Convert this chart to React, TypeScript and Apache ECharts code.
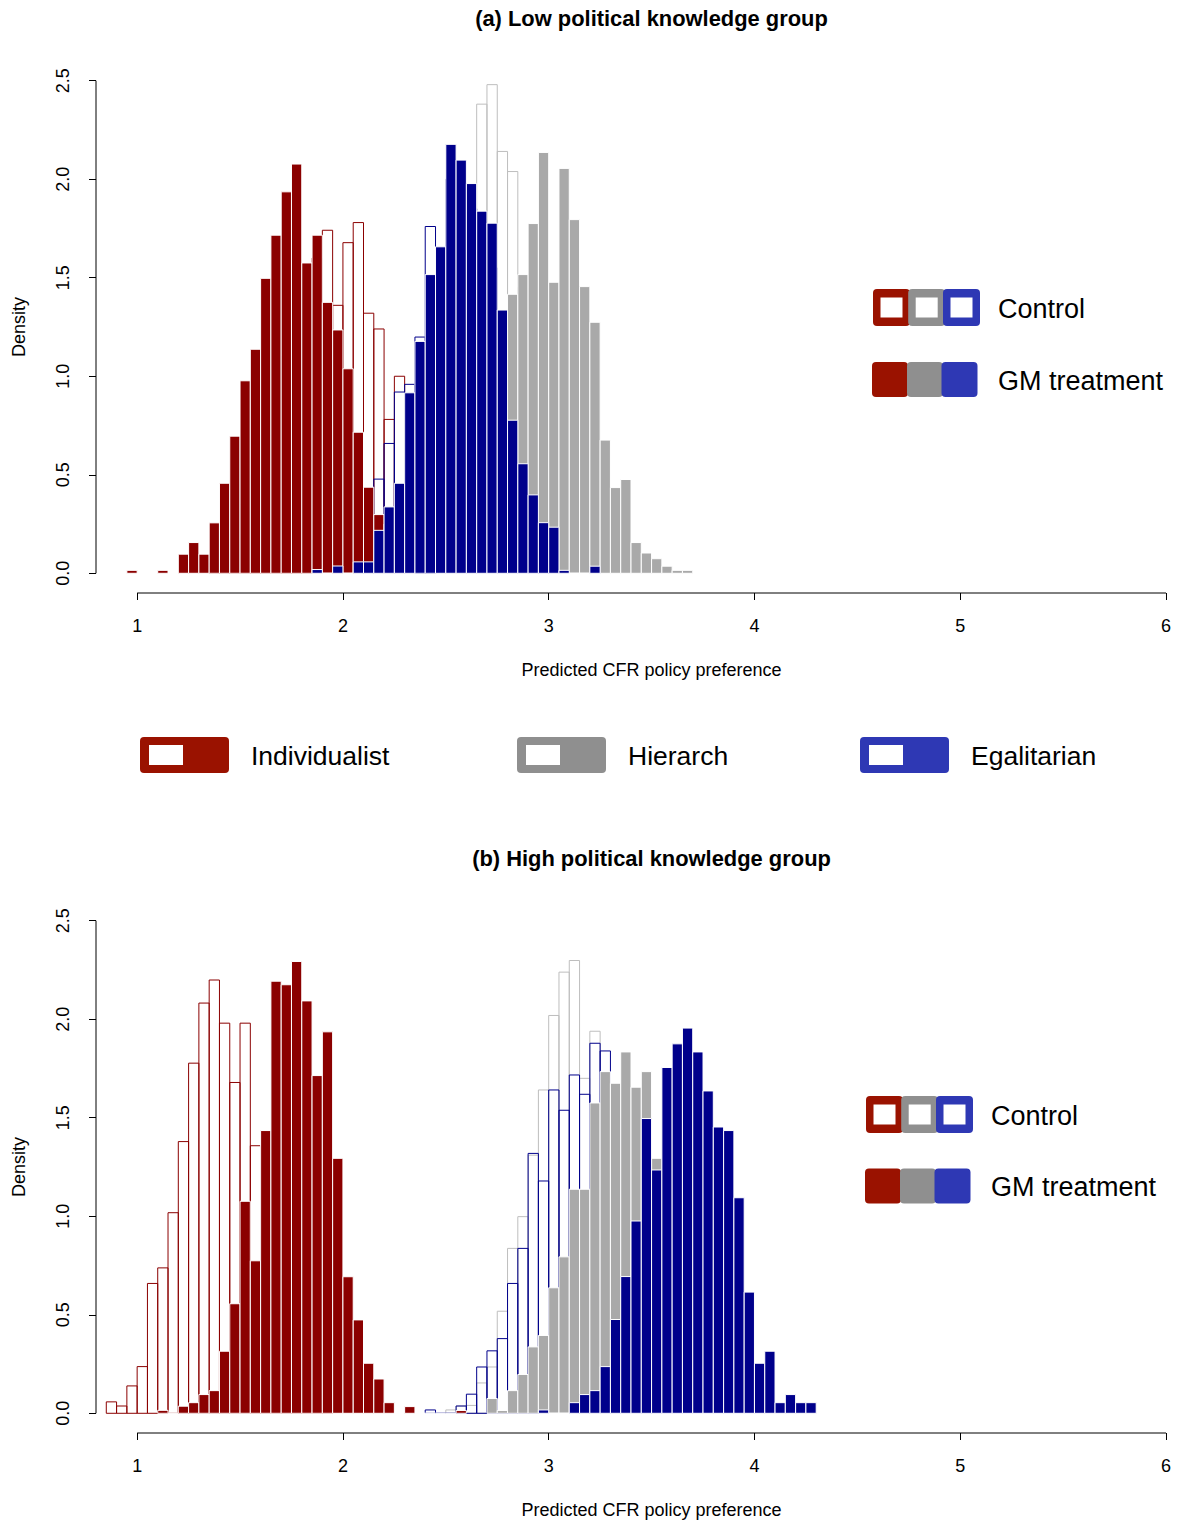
import React, { useEffect, useRef } from "react";
import * as echarts from "echarts";

// ---------- data ----------
const binWidth = 0.05;
const xTicks = [1, 2, 3, 4, 5, 6];
const yTicks = [0, 0.5, 1, 1.5, 2, 2.5];
const yTickLabels = ["0.0", "0.5", "1.0", "1.5", "2.0", "2.5"];
const xMin = 0.8;
const xMax = 6;
const yMin = -0.1;
const yMax = 2.6;

const panelTitles = ["(a) Low political knowledge group", "(b) High political knowledge group"];
const xAxisTitle = "Predicted CFR policy preference";
const yAxisTitle = "Density";
const groupNames = ["Individualist", "Hierarch", "Egalitarian"];
const conditionNames = ["Control", "GM treatment"];

// Panel (a): low political knowledge
const lowIndivControlStart = 1.35;
const lowIndivControl = [0.05, 0.1, 0.2, 0.35, 0.5, 0.7, 0.9, 1.1, 1.3, 1.45, 1.6, 1.741, 1.36, 1.678, 1.78, 1.32, 1.24, 0.781, 1.0, 0.6, 0.25, 0.1];
const lowHierControlStart = 2.3;
const lowHierControl = [0.05, 0.15, 0.35, 0.8, 1.2, 1.5, 1.85, 2.381, 2.48, 2.141, 2.039, 1.45, 1.3, 0.9, 0.6, 0.3, 0.1, 0.05];
const lowEgalControlStart = 2.05;
const lowEgalControl = [0.02, 0.05, 0.478, 0.659, 0.92, 0.959, 1.199, 1.76, 1.55, 2.0, 1.95, 1.85, 1.7, 1.55, 1.2, 0.7, 0.5, 0.35, 0.2, 0.1, 0.05];
const lowIndivGmStart = 0.95;
const lowIndivGm = [0.015, 0, 0, 0.015, 0, 0.097, 0.156, 0.097, 0.256, 0.457, 0.696, 0.977, 1.137, 1.497, 1.716, 1.936, 2.077, 1.575, 1.716, 1.375, 1.235, 1.038, 0.716, 0.437, 0.298, 0.25, 0.15, 0.05];
const lowHierGmStart = 2.45;
const lowHierGm = [0.05, 0.1, 0.2, 0.35, 0.5, 0.8, 1.1, 1.416, 1.516, 1.775, 2.136, 1.477, 2.055, 1.795, 1.455, 1.274, 0.676, 0.435, 0.476, 0.156, 0.103, 0.074, 0.036, 0.015, 0.015];
const lowEgalGmStart = 1.85;
const lowEgalGm = [0.019, 0, 0.037, 0, 0.058, 0.058, 0.218, 0.337, 0.457, 0.916, 1.177, 1.516, 1.657, 2.177, 2.097, 1.978, 1.838, 1.777, 1.336, 0.777, 0.556, 0.398, 0.257, 0.234, 0.015, 0, 0, 0.036];

// Panel (b): high political knowledge
const highIndivControlStart = 0.85;
const highIndivControl = [0.058, 0.037, 0.139, 0.237, 0.659, 0.738, 1.018, 1.379, 1.777, 2.082, 2.199, 1.98, 1.679, 1.98, 1.358, 0.9, 0.7, 0.45, 0.3, 0.18, 0.1, 0.05];
const highHierControlStart = 2.5;
const highHierControl = [0.017, 0.037, 0.04, 0.154, 0.235, 0.518, 0.837, 0.998, 1.31, 1.641, 2.019, 2.239, 2.298, 1.7, 1.939, 1.5, 1.1, 0.7, 0.4, 0.2, 0.1];
const highEgalControlStart = 2.4;
const highEgalControl = [0.017, 0, 0, 0.037, 0.097, 0.235, 0.317, 0.379, 0.659, 0.837, 1.319, 1.179, 1.641, 1.538, 1.717, 1.619, 1.878, 1.839, 1.5, 1.2, 0.9, 0.6, 0.3, 0.12, 0.07];
const highIndivGmStart = 1.1;
const highIndivGm = [0.015, 0, 0.036, 0.054, 0.095, 0.115, 0.315, 0.556, 1.076, 0.774, 1.435, 2.193, 2.175, 2.293, 2.093, 1.714, 1.936, 1.294, 0.693, 0.474, 0.254, 0.174, 0.054, 0, 0.034, 0, 0, 0, 0, 0.014];
const highHierGmStart = 2.7;
const highHierGm = [0.075, 0.014, 0.115, 0.197, 0.337, 0.395, 0.637, 0.794, 1.137, 1.137, 1.575, 1.734, 1.675, 1.834, 1.655, 1.734, 1.294, 1.2, 0.9, 0.6, 0.45, 0.25, 0.15, 0.08, 0.03];
const highEgalGmStart = 2.95;
const highEgalGm = [0.017, 0, 0, 0.054, 0.095, 0.115, 0.237, 0.476, 0.694, 0.976, 1.496, 1.235, 1.755, 1.875, 1.955, 1.834, 1.636, 1.453, 1.435, 1.094, 0.615, 0.254, 0.315, 0.054, 0.095, 0.054, 0.054];

// ---------- styles ----------
const FONT = "'Liberation Sans', Arial, Helvetica, sans-serif";
const fillColors = ["#8B0000", "#A9A9A9", "#00008B"];
const outlineColors = ["#8B0000", "#BEBEBE", "#00008B"];
const legendColors = ["#9A1200", "#8F8F8F", "#2E38B4"];

const hist = (start: number, values: number[]) =>
  values.map((v, i) => [Math.round((start + i * binWidth) * 1000) / 1000, v]);

const panels = [
  {
    controls: [
      hist(lowIndivControlStart, lowIndivControl),
      hist(lowHierControlStart, lowHierControl),
      hist(lowEgalControlStart, lowEgalControl),
    ],
    treatments: [
      hist(lowIndivGmStart, lowIndivGm),
      hist(lowHierGmStart, lowHierGm),
      hist(lowEgalGmStart, lowEgalGm),
    ],
  },
  {
    controls: [
      hist(highIndivControlStart, highIndivControl),
      hist(highHierControlStart, highHierControl),
      hist(highEgalControlStart, highEgalControl),
    ],
    treatments: [
      hist(highIndivGmStart, highIndivGm),
      hist(highHierGmStart, highHierGm),
      hist(highEgalGmStart, highEgalGm),
    ],
  },
];

const W = 1177;
const H = 1522;
const gridLeft = 96;
const gridWidth = 1070;
const gridHeight = 532;
const gridTops = [61, 901];
const plotCenterX = 651.5; // centre of R's full plot region (which runs past the page edge)

function histSeries(data: number[][], panel: number, filled: boolean, gi: number) {
  return {
    type: "custom",
    xAxisIndex: panel,
    yAxisIndex: panel,
    silent: true,
    clip: false,
    data,
    encode: { x: 0, y: 1 },
    renderItem: (params: any, api: any) => {
      const x0 = api.value(0);
      const h = api.value(1);
      const p0 = api.coord([x0, 0]);
      const p1 = api.coord([x0 + binWidth, h]);
      return {
        type: "rect",
        shape: { x: p0[0], y: p1[1], width: p1[0] - p0[0], height: p0[1] - p1[1] },
        style: filled
          ? { fill: fillColors[gi], stroke: "#ffffff", lineWidth: 1 }
          : { fill: "none", stroke: outlineColors[gi], lineWidth: 1 },
      };
    },
  };
}

function axisLineSeries(panel: number) {
  const common = {
    type: "line",
    xAxisIndex: panel,
    yAxisIndex: panel,
    silent: true,
    clip: false,
    symbol: "none",
    lineStyle: { color: "#000", width: 1 },
    z: 5,
  };
  return [
    { ...common, data: [[xTicks[0], yMin], [xTicks[xTicks.length - 1], yMin]] },
    { ...common, data: [[xMin, yTicks[0]], [xMin, yTicks[yTicks.length - 1]]] },
  ];
}

function panelLegend(x0: number, yControl: number, yGm: number) {
  const els: any[] = [];
  const oc = [18.5, 53.7, 88.5];
  oc.forEach((cx, i) => {
    els.push({
      type: "rect",
      shape: { x: x0 + cx - 18.5, y: yControl - 18.5, width: 37, height: 37, r: 4 },
      style: { fill: legendColors[i] },
    });
    els.push({
      type: "rect",
      shape: { x: x0 + cx - 11, y: yControl - 10, width: 22, height: 20 },
      style: { fill: "#ffffff" },
    });
  });
  const fc = [17, 52, 86.5];
  fc.forEach((cx, i) => {
    els.push({
      type: "rect",
      shape: { x: x0 + cx - 18, y: yGm - 17.5, width: 36, height: 35, r: 4 },
      style: { fill: legendColors[i] },
    });
  });
  els.push({
    type: "text",
    x: x0 + 125,
    y: yControl + 1,
    style: { text: conditionNames[0], font: `27px ${FONT}`, fill: "#000", textAlign: "left", textVerticalAlign: "middle" },
  });
  els.push({
    type: "text",
    x: x0 + 125,
    y: yGm + 1,
    style: { text: conditionNames[1], font: `27px ${FONT}`, fill: "#000", textAlign: "left", textVerticalAlign: "middle" },
  });
  return els;
}

function groupLegend() {
  const els: any[] = [];
  const xs = [140, 517, 860];
  const y = 737;
  xs.forEach((x, i) => {
    els.push({
      type: "rect",
      shape: { x, y, width: 89, height: 36, r: 4 },
      style: { fill: legendColors[i] },
    });
    els.push({
      type: "rect",
      shape: { x: x + 9, y: y + 8, width: 34, height: 20 },
      style: { fill: "#ffffff" },
    });
    els.push({
      type: "text",
      x: x + 111,
      y: y + 19,
      style: { text: groupNames[i], font: `26.5px ${FONT}`, fill: "#000", textAlign: "left", textVerticalAlign: "middle" },
    });
  });
  return els;
}

export default function App() {
  const ref = useRef<HTMLDivElement>(null);
  useEffect(() => {
    if (!ref.current) return;
    const chart = echarts.init(ref.current, null, { renderer: "svg", width: W, height: H });

    const grids = gridTops.map((top) => ({ left: gridLeft, top, width: gridWidth, height: gridHeight }));
    const nameShift = 2 * (plotCenterX - (gridLeft + gridWidth / 2));
    const xAxes = gridTops.map((_, i) => ({
      type: "value",
      gridIndex: i,
      min: xMin,
      max: xMax,
      axisLine: { show: false, onZero: false },
      splitLine: { show: false },
      axisTick: { show: true, length: 7, customValues: xTicks, lineStyle: { color: "#000", width: 1 } },
      axisLabel: { customValues: xTicks, fontSize: 18, color: "#000", fontFamily: FONT, margin: 24 },
      name: xAxisTitle,
      nameLocation: "middle",
      nameGap: 68,
      nameTextStyle: { fontSize: 18, color: "#000", fontFamily: FONT, padding: [0, 0, 0, nameShift] },
    }));
    const yAxes = gridTops.map((_, i) => ({
      type: "value",
      gridIndex: i,
      min: yMin,
      max: yMax,
      axisLine: { show: false, onZero: false },
      splitLine: { show: false },
      axisTick: { show: true, length: 7, customValues: yTicks, lineStyle: { color: "#000", width: 1 } },
      axisLabel: {
        customValues: yTicks,
        rotate: 90,
        fontSize: 18,
        color: "#000",
        fontFamily: FONT,
        margin: 24,
        formatter: (v: number) => yTickLabels[yTicks.indexOf(v)] ?? String(v),
      },
      name: yAxisTitle,
      nameLocation: "middle",
      nameGap: 68,
      nameRotate: 90,
      nameTextStyle: { fontSize: 18, color: "#000", fontFamily: FONT },
    }));

    const series: any[] = [];
    panels.forEach((p, pi) => {
      p.controls.forEach((d, gi) => series.push(histSeries(d, pi, false, gi)));
      p.treatments.forEach((d, gi) => series.push(histSeries(d, pi, true, gi)));
      series.push(...axisLineSeries(pi));
    });

    const titleEls = gridTops.map((top, i) => ({
      type: "text",
      x: plotCenterX,
      y: top - 43,
      style: {
        text: panelTitles[i],
        font: `bold 21.9px ${FONT}`,
        fill: "#000",
        textAlign: "center",
        textVerticalAlign: "middle",
      },
    }));

    chart.setOption({
      animation: false,
      backgroundColor: "#ffffff",
      grid: grids,
      xAxis: xAxes,
      yAxis: yAxes,
      series,
      graphic: [
        ...titleEls,
        ...panelLegend(873, 307.5, 379.5),
        ...panelLegend(866, 1114.5, 1186),
        ...groupLegend(),
      ],
    });
    return () => chart.dispose();
  }, []);
  return <div ref={ref} style={{ position: "absolute", left: 0, top: 0, width: W, height: H }} />;
}
